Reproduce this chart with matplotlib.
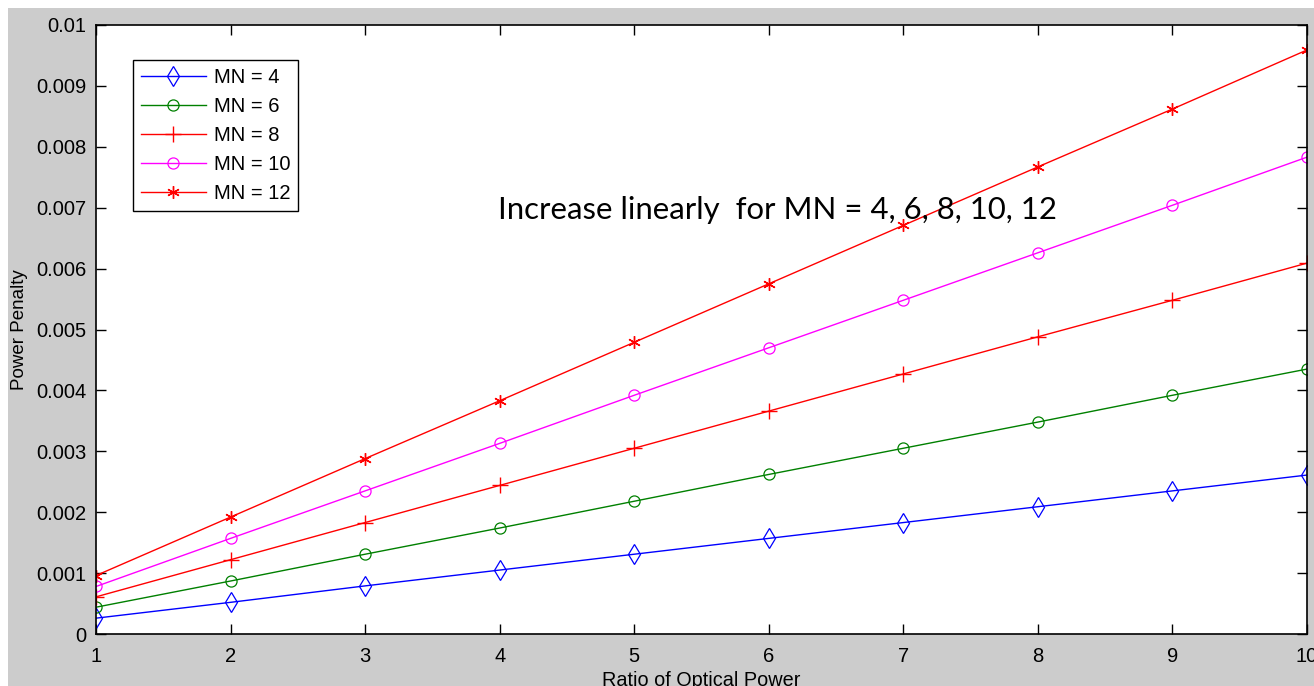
import matplotlib
matplotlib.use("Agg")
import matplotlib.pyplot as plt
from matplotlib.patches import Rectangle

ratio = [1, 2, 3, 4, 5, 6, 7, 8, 9, 10]
mn4 = [0.00026, 0.00052, 0.00079, 0.00105, 0.00131, 0.00157, 0.00183, 0.00209, 0.00235, 0.00261]
mn6 = [0.00044, 0.00087, 0.00131, 0.00174, 0.00218, 0.00262, 0.00305, 0.00348, 0.00392, 0.00435]
mn8 = [0.00061, 0.00122, 0.00183, 0.00244, 0.00305, 0.00366, 0.00427, 0.00488, 0.00548, 0.00609]
mn10 = [0.00078, 0.00157, 0.00235, 0.00313, 0.00392, 0.00470, 0.00548, 0.00626, 0.00704, 0.00783]
mn12 = [0.00096, 0.00192, 0.00288, 0.00383, 0.00479, 0.00575, 0.00671, 0.00767, 0.00862, 0.00959]
labels = ["MN = 4", "MN = 6", "MN = 8", "MN = 10", "MN = 12"]
yticks = [0, 0.001, 0.002, 0.003, 0.004, 0.005, 0.006, 0.007, 0.008, 0.009, 0.01]
yticklabels = ["0", "0.001", "0.002", "0.003", "0.004", "0.005", "0.006", "0.007", "0.008", "0.009", "0.01"]

plt.rcParams['font.family'] = ['Liberation Sans', 'DejaVu Sans']

fig = plt.figure(figsize=(13.14, 6.86), dpi=100, facecolor='white')
fig.patches.append(Rectangle((8/1314, 0), 1 - 8/1314, 1 - 8/686, transform=fig.transFigure,
                             facecolor='#cccccc', edgecolor='none', zorder=-10))
ax = fig.add_axes([96/1314, 1 - 634/686, (1307 - 96)/1314, (634 - 25)/686])
ax.set_facecolor('white')

ast = (6, 2, 0)
ax.plot(ratio, mn4, color='blue', lw=1.0, marker='d', ms=10, mfc='none', mew=0.9, label=labels[0])
ax.plot(ratio, mn6, color='green', lw=1.0, marker='o', ms=8, mfc='none', mew=0.9, label=labels[1])
ax.plot(ratio, mn8, color='red', lw=1.0, marker='+', ms=11, mew=1.0, label=labels[2])
ax.plot(ratio, mn10, color='magenta', lw=1.0, marker='o', ms=8, mfc='none', mew=0.9, label=labels[3])
ax.plot(ratio, mn12, color='red', lw=1.0, marker=ast, ms=9, mew=1.0, label=labels[4])

ax.set_xlim(1, 10)
ax.set_ylim(0, 0.01)
ax.set_xticks(ratio)
ax.set_yticks(yticks)
ax.set_yticklabels(yticklabels)
ax.tick_params(direction='in', length=7, width=1.0, top=True, right=True, labelsize=14.5)
ax.tick_params(axis='x', pad=9)
ax.tick_params(axis='y', pad=7)
for s in ax.spines.values():
    s.set_linewidth(1.2)

ax.set_xlabel("Ratio of Optical Power", fontsize=14.3, labelpad=4)
ax.set_ylabel("Power Penalty", fontsize=13.5, labelpad=6)

leg = ax.legend(loc='upper left', bbox_to_anchor=(37/1211, 1 - 35/609), borderaxespad=0,
                fontsize=14.5, handlelength=3.2, labelspacing=0.5, fancybox=False,
                edgecolor='black', framealpha=1, borderpad=0.4, handletextpad=0.4)
leg.get_frame().set_linewidth(1.0)

ax.text(0.332, 0.697, "Increase linearly  for MN = 4, 6, 8, 10, 12", transform=ax.transAxes,
        fontsize=22.4, family=['Lato', 'DejaVu Sans'], va='center', ha='left')

fig.savefig("out.png", dpi=100, facecolor=fig.get_facecolor())
